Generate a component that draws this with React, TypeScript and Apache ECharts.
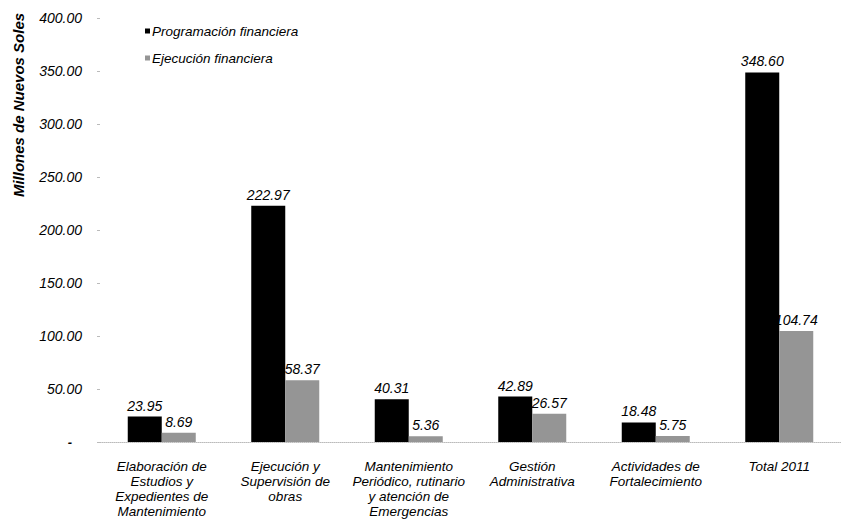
import React, { useEffect, useRef } from "react";
import * as echarts from "echarts";

const categories = [
  "Elaboración de\nEstudios y\nExpedientes de\nMantenimiento",
  "Ejecución y\nSupervisión de\nobras",
  "Mantenimiento\nPeriódico, rutinario\ny atención de\nEmergencias",
  "Gestión\nAdministrativa",
  "Actividades de\nFortalecimiento",
  "Total 2011",
];
const programacion = [23.95, 222.97, 40.31, 42.89, 18.48, 348.6];
const ejecucion = [8.69, 58.37, 5.36, 26.57, 5.75, 104.74];
const seriesNames = ["Programación financiera", "Ejecución financiera"];
const yTitle = "Millones de Nuevos Soles";

const FONT = "'Liberation Sans', Arial, sans-serif";

export default function App() {
  const ref = useRef<HTMLDivElement>(null);
  useEffect(() => {
    if (!ref.current) return;
    const chart = echarts.init(ref.current, null, { renderer: "svg" });
    const labelStyle = {
      show: true,
      position: "top" as const,
      distance: 4,
      fontFamily: FONT,
      fontStyle: "italic" as const,
      fontSize: 14,
      color: "#000",
      formatter: (p: any) => p.value.toFixed(2),
    };
    chart.setOption({
      animation: false,
      backgroundColor: "#fff",
      textStyle: { fontFamily: FONT },
      grid: { left: 100, top: 18, bottom: 78, width: 744, containLabel: false },
      legend: {
        orient: "vertical",
        left: 140,
        top: 19,
        itemWidth: 5,
        itemHeight: 5,
        itemGap: 13,
        icon: "rect",
        textStyle: {
          fontFamily: FONT,
          fontStyle: "italic",
          fontSize: 13.5,
          color: "#000",
          padding: [0, 0, 0, -3],
        },
        data: seriesNames,
      },
      graphic: [
        {
          type: "text",
          x: 18,
          y: 105,
          rotation: Math.PI / 2,
          style: {
            text: yTitle,
            fontFamily: FONT,
            fontStyle: "italic",
            fontWeight: "bold",
            fontSize: 15,
            fill: "#000",
            textAlign: "center",
            textVerticalAlign: "middle",
          },
        },
      ],
      xAxis: {
        type: "category",
        data: categories,
        axisLine: { show: true, lineStyle: { color: "#bbb", type: "dotted", width: 1 } },
        axisTick: { show: false },
        axisLabel: {
          interval: 0,
          margin: 17,
          fontFamily: FONT,
          fontStyle: "italic",
          fontSize: 13.5,
          lineHeight: 15,
          color: "#000",
        },
      },
      yAxis: {
        type: "value",
        min: 0,
        max: 400,
        interval: 50,
        splitLine: { show: false },
        axisLine: { show: false },
        axisTick: { show: true, length: 3, lineStyle: { color: "#bbb" } },
        axisLabel: {
          margin: 18,
          fontFamily: FONT,
          fontStyle: "italic",
          fontSize: 14,
          color: "#000",
          formatter: (v: number) => (v === 0 ? "{d|-}" : v.toFixed(2)),
          rich: { d: { fontSize: 13, fontWeight: "bold", padding: [0, 10, 0, 0], fontFamily: FONT } },
        },
      },
      series: [
        {
          name: seriesNames[0],
          type: "bar",
          data: programacion,
          barWidth: 34,
          barGap: "0%",
          itemStyle: { color: "#000" },
          label: labelStyle,
        },
        {
          name: seriesNames[1],
          type: "bar",
          data: ejecucion,
          barWidth: 34,
          barGap: "0%",
          itemStyle: { color: "#959595" },
          label: labelStyle,
        },
      ],
    });
    return () => chart.dispose();
  }, []);
  return <div ref={ref} style={{ width: 841, height: 520, position: "absolute", left: 0, top: 0 }} />;
}
